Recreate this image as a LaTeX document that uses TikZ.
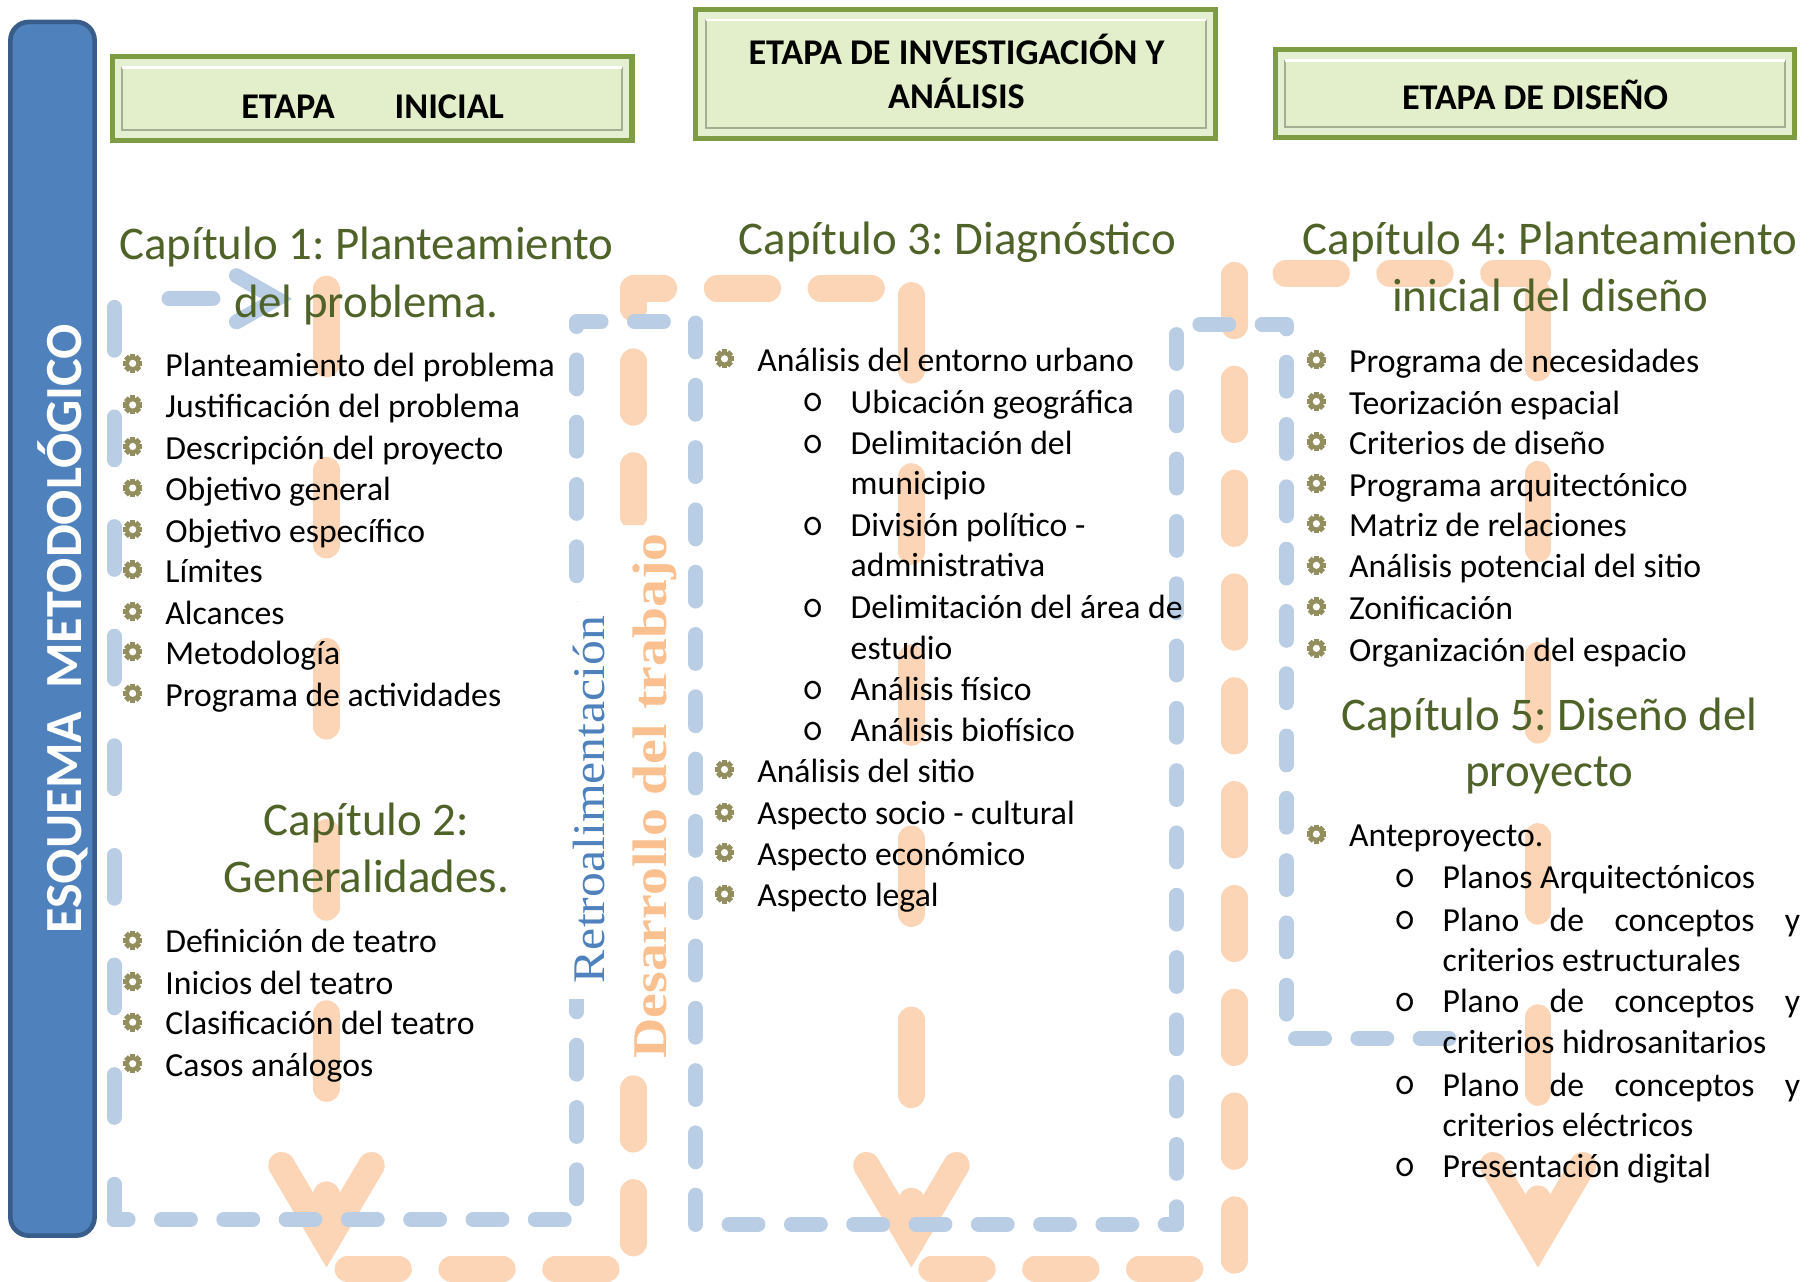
\documentclass[tikz,border=0pt]{standalone}
\usepackage{fontspec}
\setmainfont{Carlito}
\newfontfamily\serifw{Liberation Serif}
\definecolor{blueA}{HTML}{4F81BD}
\definecolor{blueB}{HTML}{385D8A}
\definecolor{blueL}{HTML}{B9CDE5}
\definecolor{orL}{HTML}{FBD5B5}
\definecolor{orT}{HTML}{FAC090}
\definecolor{titc}{HTML}{4F6228}
\definecolor{gearc}{HTML}{938E5E}
\definecolor{grO}{HTML}{7E9C43}
\definecolor{grF}{HTML}{E5F0D2}
\definecolor{grI}{HTML}{E2EFCA}
\definecolor{grS}{HTML}{A3AE92}
\newcommand\gearat[1]{\begin{scope}[shift={#1}]
  \fill[gearc] (0,0) circle (6.6);
  \foreach \a in {0,45,90,135}{\fill[gearc,rotate=\a] (-2.3,-8.2) rectangle (2.3,8.2);}
  \fill[white] (0,0) circle (3.1);\end{scope}}
\newcommand\bitem[4]{\gearat{(#2,#3-1)}\node[body] (#1) at (#2+28,#3+10) {#4};}
\newcommand\sitem[4]{\node[subb] (#1o) at (#2,#3+9) {o};\node[body] (#1) at (#2+32,#3+10) {#4};}
\newcommand\citem[4]{\node[body] (#1) at (#2,#3+10) {#4};}
\newcommand\hdrbox[4]{%
  \fill[grF] (#1,#2) rectangle (#3,#4);
  \draw[grO, line width=2.2pt] (#1+2.2,#2+2.2) rectangle (#3-2.2,#4-2.2);
  \fill[grI] (#1+11,#2+11) rectangle (#3-11,#4-11);
  \draw[grS, line width=0.8pt] (#1+11,#2+11) -- (#1+11,#4-11) -- (#3-11,#4-11) -- (#3-11,#2+11);
  \draw[white, line width=1pt] (#1+11,#2+11.5) -- (#3-11,#2+11.5);}
\frenchspacing
\begin{document}
\begin{tikzpicture}[x=0.5pt,y=-0.5pt,
  body/.style={font=\fontsize{14.6}{17}\selectfont, inner sep=0pt, anchor=base west},
  subb/.style={font=\ttfamily\fontsize{18}{20}\selectfont, inner sep=0pt, anchor=base},
  ttl/.style={font=\fontsize{20.3}{24}\selectfont, text=titc, inner sep=0pt, anchor=base},
  hdr/.style={font=\fontsize{15.7}{19}\selectfont\bfseries, inner sep=0pt, anchor=base},
  bdash/.style={draw=blueL, line width=6.5pt, line cap=round, line join=round, dash pattern=on 12.5pt off 14.5pt},
  bdashL/.style={draw=blueL, line width=6.5pt, line cap=round, dash pattern=on 18.5pt off 29pt, dash phase=3.25pt},
  bsolid/.style={draw=blueL, line width=6.5pt, line cap=round, line join=miter},
  odash/.style={draw=orL, line width=11.5pt, line cap=round, line join=round, dash pattern=on 22pt off 23pt},
  olong/.style={draw=orL, line width=11.5pt, line cap=round, dash pattern=on 32.5pt off 46pt},
  vhead/.style={draw=orL, line width=11.5pt, line cap=round, line join=miter}]
\useasboundingbox (0,0) rectangle (1568,1111);
\fill[white] (0,0) rectangle (1568,1111);

% left vertical banner
\draw[fill=blueA, draw=blueB, line width=2pt, rounded corners=8pt] (9,19) rectangle (82,1071);
\node[rotate=90, anchor=base, text=white, inner sep=0pt, font=\fontsize{22.6}{26}\selectfont\bfseries] (esq) at (71,545) {ESQUEMA\hspace{10pt}METODOLÓGICO};

% header boxes
\hdrbox{95}{47}{550}{124}
\hdrbox{601}{6}{1056}{122}
\hdrbox{1103}{41}{1558}{121}
\node[hdr] (h1) at (323,103) {ETAPA\hspace{26pt}INICIAL};
\node[hdr] (h2a) at (829,56) {ETAPA DE INVESTIGACIÓN Y};
\node[hdr] (h2b) at (829,94) {ANÁLISIS};
\node[hdr] (h3) at (1330.5,95) {ETAPA DE DISEÑO};

% orange flow (Desarrollo del trabajo)
\coordinate (o1t) at (283,250.5); \coordinate (o1b) at (283,1076);
\coordinate (o2t) at (790,256);   \coordinate (o2b) at (790,1076);
\coordinate (o3t) at (1333,254);  \coordinate (o3b) at (1333,1076);
\draw[olong] (o1t) -- (o1b);
\draw[olong] (o2t) -- (o2b);
\draw[olong] (o3t) -- (o3b);
\coordinate (s1) at (301.5,1100); \coordinate (s2) at (549,1100);
\coordinate (s3) at (549,250);    \coordinate (s4) at (790,250);
\coordinate (s5) at (807.5,1100); \coordinate (s6) at (1070,1100);
\coordinate (s7) at (1070,237);   \coordinate (s8) at (1333,237);
\draw[odash] (s1) -- (s2) -- (s3) -- (s4);
\draw[odash] (s5) -- (s6) -- (s7) -- (s8);
\draw[vhead] (244,1010) -- (o1b) -- (322,1010);
\draw[vhead] (751,1010) -- (o2b) -- (829,1010);
\draw[vhead] (1294,1010) -- (o3b) -- (1372,1010);

% blue flow (Retroalimentacion)
\coordinate (b1) at (1256,900);  \coordinate (b2) at (1115,900);
\coordinate (b3) at (1115,281);  \coordinate (b4) at (1020,281);
\coordinate (b5) at (1020,1061); \coordinate (b6) at (603,1061);
\coordinate (b7) at (603,279);   \coordinate (b8) at (500,279);
\coordinate (b9) at (500,1057);  \coordinate (b10) at (99,1057);
\coordinate (b11) at (99,262);
\draw[bdash] (b1) -- (b2) -- (b3) -- (b4) -- (b5) -- (b6) -- (b7) -- (b8) -- (b9) -- (b10);
\draw[bdashL] (b10) -- (b11);
\coordinate (a1) at (146.5,259); \coordinate (a2) at (184.5,259);
\draw[bsolid] (a1) -- (a2);
\coordinate (at) at (240,259);
\draw[bsolid] (205,239) -- (at) -- (205,279);

% vertical labels
\fill[white] (489,522) rectangle (531,866);
\fill[white] (537,455) rectangle (593,928);
\node[rotate=90, anchor=base, inner sep=0pt, text=blueA, font=\serifw\fontsize{19.6}{22}\selectfont] (retro) at (524,693) {\scalebox{1.1}[1]{Retroalimentación}};
\node[rotate=90, anchor=base, inner sep=0pt, text=orT, font=\serifw\bfseries\fontsize{21}{24}\selectfont] (desa) at (578,690) {\scalebox{1.15}[1]{Desarrollo del trabajo}};

% chapter titles
\node[ttl] (t1a) at (317.5,225) {Capítulo 1: Planteamiento};
\node[ttl] (t1b) at (317.5,275) {del problema.};
\node[ttl] (t2a) at (317.5,724) {Capítulo 2:};
\node[ttl] (t2b) at (317.5,774) {Generalidades.};
\node[ttl] (t3) at (830,221) {Capítulo 3: Diagnóstico};
\node[ttl] (t4a) at (1343.5,221) {Capítulo 4: Planteamiento};
\node[ttl] (t4b) at (1343.5,270) {inicial del diseño};
\node[ttl] (t5a) at (1343,633) {Capítulo 5: Diseño del};
\node[ttl] (t5b) at (1343,682) {proyecto};

% column 1
\bitem{c1a}{115}{316}{Planteamiento del problema}
\bitem{c1b}{115}{352}{Justificación del problema}
\bitem{c1c}{115}{388}{Descripción del proyecto}
\bitem{c1d}{115}{424}{Objetivo general}
\bitem{c1e}{115}{460}{Objetivo específico}
\bitem{c1f}{115}{495}{Límites}
\bitem{c1g}{115}{531}{Alcances}
\bitem{c1h}{115}{566}{Metodología}
\bitem{c1i}{115}{602}{Programa de actividades}
\bitem{c2a}{115}{816}{Definición de teatro}
\bitem{c2b}{115}{852}{Inicios del teatro}
\bitem{c2c}{115}{887}{Clasificación del teatro}
\bitem{c2d}{115}{923}{Casos análogos}

% column 2
\bitem{m1}{628}{312}{Análisis del entorno urbano}
\sitem{m2}{705}{348}{Ubicación geográfica}
\sitem{m3}{705}{384}{Delimitación del}
\citem{m3b}{737}{419}{municipio}
\sitem{m4}{705}{455}{División político -}
\citem{m4b}{737}{490}{administrativa}
\sitem{m5}{705}{526}{Delimitación del área de}
\citem{m5b}{737}{562}{estudio}
\sitem{m6}{705}{597}{Análisis físico}
\sitem{m7}{705}{633}{Análisis biofísico}
\bitem{m8}{628}{668}{Análisis del sitio}
\bitem{m9}{628}{705}{Aspecto socio - cultural}
\bitem{m10}{628}{740}{Aspecto económico}
\bitem{m11}{628}{776}{Aspecto legal}

% column 3
\bitem{r1}{1141}{313}{Programa de necesidades}
\bitem{r2}{1141}{349}{Teorización espacial}
\bitem{r3}{1141}{384}{Criterios de diseño}
\bitem{r4}{1141}{420}{Programa arquitectónico}
\bitem{r5}{1141}{455}{Matriz de relaciones}
\bitem{r6}{1141}{491}{Análisis potencial del sitio}
\bitem{r7}{1141}{527}{Zonificación}
\bitem{r8}{1141}{563}{Organización del espacio}
\bitem{r9}{1141}{724}{Anteproyecto.}
\sitem{r10}{1218}{760}{Planos Arquitectónicos}
\sitem{r11}{1218}{797}{\hbox to 155pt{Plano\hfill de\hfill conceptos\hfill y}}
\citem{r11b}{1250}{832}{criterios estructurales}
\sitem{r12}{1218}{868}{\hbox to 155pt{Plano\hfill de\hfill conceptos\hfill y}}
\citem{r12b}{1250}{903}{criterios hidrosanitarios}
\sitem{r13}{1218}{940}{\hbox to 155pt{Plano\hfill de\hfill conceptos\hfill y}}
\citem{r13b}{1250}{975}{criterios eléctricos}
\sitem{r14}{1218}{1011}{Presentación digital}
\end{tikzpicture}
\end{document}
